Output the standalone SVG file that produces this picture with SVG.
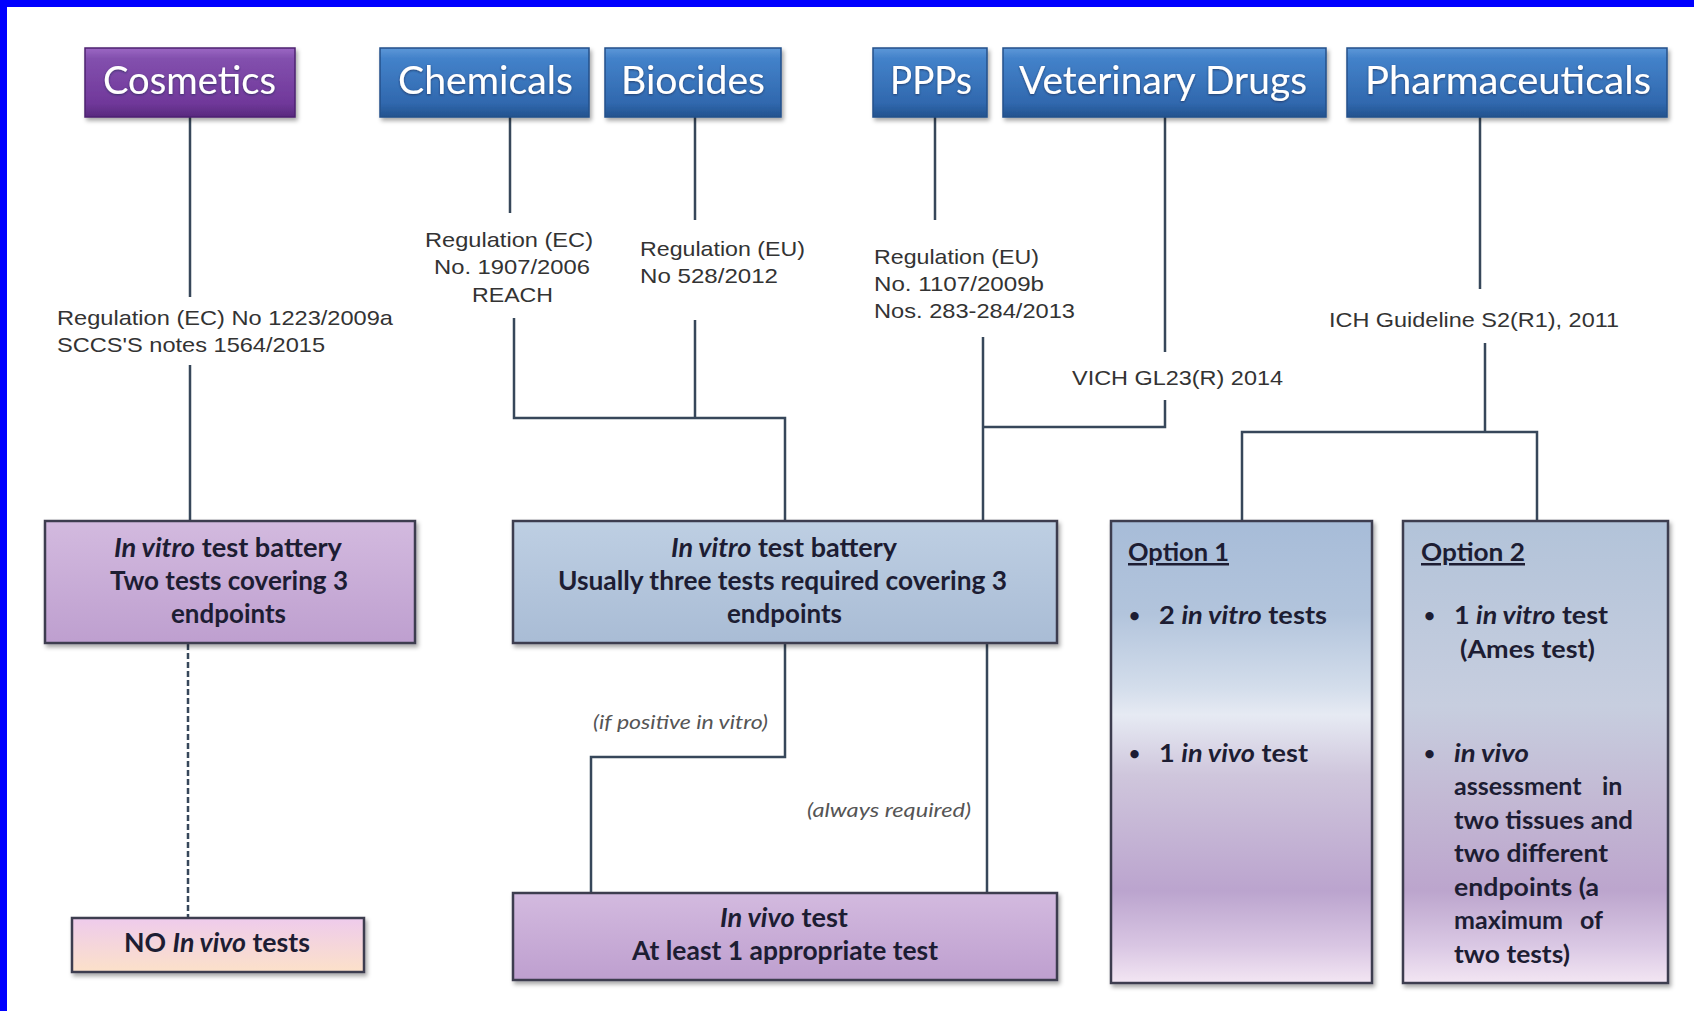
<svg xmlns="http://www.w3.org/2000/svg" width="1694" height="1011" viewBox="0 0 1694 1011">
<defs>
<style>
.hdr{font-family:Lato,"Open Sans",sans-serif;font-size:38px;fill:#ffffff;}
.reg{font-family:"Liberation Sans",Arial,sans-serif;font-size:21px;fill:#333333;}
.bt{font-family:Lato,"Open Sans",sans-serif;font-size:26px;font-weight:bold;fill:#1d1d33;}
.ot{font-family:Lato,"Open Sans",sans-serif;font-size:25px;font-weight:bold;fill:#1d1d33;}
.bul{font-family:Lato,"Open Sans",sans-serif;font-size:19px;font-weight:bold;fill:#1d1d33;}
.lbl{font-family:Lato,"Open Sans",sans-serif;font-size:19px;font-style:italic;fill:#555555;}
.conn{stroke:#37475A;stroke-width:2.5;fill:none;}
.dash{stroke:#37475A;stroke-width:2.5;fill:none;stroke-dasharray:6 3;}
.hb{stroke:#24508A;stroke-width:1.5;}
.hp{stroke:#4E2370;stroke-width:1.5;}
.bx{stroke:#3E3C50;stroke-width:2.5;}
.it{font-style:italic;}
</style>
<linearGradient id="gBlue" x1="0" y1="0" x2="0" y2="1">
<stop offset="0" stop-color="#5D98D8"/>
<stop offset="0.15" stop-color="#4382CA"/>
<stop offset="0.8" stop-color="#3068AE"/>
<stop offset="1" stop-color="#23528E"/>
</linearGradient>
<linearGradient id="gPurp" x1="0" y1="0" x2="0" y2="1">
<stop offset="0" stop-color="#9C68C4"/>
<stop offset="0.15" stop-color="#8350AE"/>
<stop offset="0.8" stop-color="#70389A"/>
<stop offset="1" stop-color="#582A7E"/>
</linearGradient>
<linearGradient id="gLav" x1="0" y1="0" x2="0" y2="1">
<stop offset="0" stop-color="#D3BADF"/>
<stop offset="1" stop-color="#BE9FCF"/>
</linearGradient>
<linearGradient id="gSteel" x1="0" y1="0" x2="0" y2="1">
<stop offset="0" stop-color="#BECFE3"/>
<stop offset="1" stop-color="#A9BCD5"/>
</linearGradient>
<linearGradient id="gNo" x1="0" y1="0" x2="0" y2="1">
<stop offset="0" stop-color="#EECBEC"/>
<stop offset="1" stop-color="#FCE1C9"/>
</linearGradient>
<linearGradient id="gOpt1" x1="0" y1="0" x2="0" y2="1">
<stop offset="0" stop-color="#A7BCD8"/>
<stop offset="0.2" stop-color="#B2C4DC"/>
<stop offset="0.36" stop-color="#D3DDEB"/>
<stop offset="0.42" stop-color="#E6EAF3"/>
<stop offset="0.55" stop-color="#CFC6DC"/>
<stop offset="0.8" stop-color="#BBA4CE"/>
<stop offset="0.92" stop-color="#D9C6E3"/>
<stop offset="1" stop-color="#F3E6F3"/>
</linearGradient>
<linearGradient id="gOpt2" x1="0" y1="0" x2="0" y2="1">
<stop offset="0" stop-color="#B2C3D9"/>
<stop offset="0.4" stop-color="#C7CEDF"/>
<stop offset="0.6" stop-color="#C3B9D4"/>
<stop offset="0.8" stop-color="#BCA5CD"/>
<stop offset="0.92" stop-color="#DAC8E4"/>
<stop offset="1" stop-color="#F3E6F3"/>
</linearGradient>
<filter id="sh" x="-10%" y="-10%" width="120%" height="130%">
<feDropShadow dx="2" dy="3" stdDeviation="2" flood-color="#000000" flood-opacity="0.35"/>
</filter>
<filter id="glow" x="-10%" y="-20%" width="120%" height="140%">
<feDropShadow dx="0" dy="1" stdDeviation="1" flood-color="#1a2a50" flood-opacity="0.7"/>
</filter>
</defs>

<rect x="0" y="0" width="1694" height="1011" fill="#ffffff"/>
<rect x="0" y="0" width="1694" height="7" fill="#0000FF"/>
<rect x="0" y="0" width="7" height="1011" fill="#0000FF"/>

<g id="connectors">
<path class="conn" d="M190 117V297M190 365V521"/>
<path class="dash" d="M188 644V918"/>
<path class="conn" d="M510 117V213M514 318V418H785V521M695 117V220M695 320V418"/>
<path class="conn" d="M935 117V220M983 337V521M1165 117V352M1165 400V427H983"/>
<path class="conn" d="M1480 117V289M1485 343V432M1242 521V432H1537V521"/>
<path class="conn" d="M785 643V757H591V893M987 643V893"/>
</g>

<g id="labels">
<text class="reg" x="57" y="325" textLength="336" lengthAdjust="spacingAndGlyphs">Regulation (EC) No 1223/2009a</text>
<text class="reg" x="57" y="352" textLength="268" lengthAdjust="spacingAndGlyphs">SCCS'S notes 1564/2015</text>
<text class="reg" x="425" y="247" textLength="168" lengthAdjust="spacingAndGlyphs">Regulation (EC)</text>
<text class="reg" x="434" y="274" textLength="156" lengthAdjust="spacingAndGlyphs">No. 1907/2006</text>
<text class="reg" x="472" y="302" textLength="81" lengthAdjust="spacingAndGlyphs">REACH</text>
<text class="reg" x="640" y="256" textLength="165" lengthAdjust="spacingAndGlyphs">Regulation (EU)</text>
<text class="reg" x="640" y="283" textLength="138" lengthAdjust="spacingAndGlyphs">No 528/2012</text>
<text class="reg" x="874" y="264" textLength="165" lengthAdjust="spacingAndGlyphs">Regulation (EU)</text>
<text class="reg" x="874" y="291" textLength="170" lengthAdjust="spacingAndGlyphs">No. 1107/2009b</text>
<text class="reg" x="874" y="318" textLength="201" lengthAdjust="spacingAndGlyphs">Nos. 283-284/2013</text>
<text class="reg" x="1072" y="385" textLength="211" lengthAdjust="spacingAndGlyphs">VICH GL23(R) 2014</text>
<text class="reg" x="1329" y="327" textLength="290" lengthAdjust="spacingAndGlyphs">ICH Guideline S2(R1), 2011</text>
<text class="lbl" x="593" y="729" textLength="175" lengthAdjust="spacingAndGlyphs">(if positive in vitro)</text>
<text class="lbl" x="807" y="817" textLength="164" lengthAdjust="spacingAndGlyphs">(always required)</text>
</g>

<g id="cosmetics">
<rect class="hp" x="85" y="48" width="210" height="69" fill="url(#gPurp)" filter="url(#sh)"/>
<text class="hdr" x="103" y="94" textLength="173" lengthAdjust="spacingAndGlyphs" filter="url(#glow)">Cosmetics</text>
</g>
<g id="chemicals">
<rect class="hb" x="380" y="48" width="209" height="69" fill="url(#gBlue)" filter="url(#sh)"/>
<text class="hdr" x="398" y="94" textLength="175" lengthAdjust="spacingAndGlyphs" filter="url(#glow)">Chemicals</text>
</g>
<g id="biocides">
<rect class="hb" x="605" y="48" width="176" height="69" fill="url(#gBlue)" filter="url(#sh)"/>
<text class="hdr" x="621" y="94" textLength="144" lengthAdjust="spacingAndGlyphs" filter="url(#glow)">Biocides</text>
</g>
<g id="ppps">
<rect class="hb" x="873" y="48" width="114" height="69" fill="url(#gBlue)" filter="url(#sh)"/>
<text class="hdr" x="890" y="94" textLength="82" lengthAdjust="spacingAndGlyphs" filter="url(#glow)">PPPs</text>
</g>
<g id="vetdrugs">
<rect class="hb" x="1003" y="48" width="323" height="69" fill="url(#gBlue)" filter="url(#sh)"/>
<text class="hdr" x="1019" y="94" textLength="288" lengthAdjust="spacingAndGlyphs" filter="url(#glow)">Veterinary Drugs</text>
</g>
<g id="pharma">
<rect class="hb" x="1347" y="48" width="320" height="69" fill="url(#gBlue)" filter="url(#sh)"/>
<text class="hdr" x="1365" y="94" textLength="286" lengthAdjust="spacingAndGlyphs" filter="url(#glow)">Pharmaceuticals</text>
</g>

<g id="cosm-invitro">
<rect class="bx" x="45" y="521" width="370" height="122" fill="url(#gLav)" filter="url(#sh)"/>
<text class="bt" x="114" y="557" textLength="228" lengthAdjust="spacingAndGlyphs"><tspan class="it">In vitro</tspan> test battery</text>
<text class="bt" x="110" y="590" textLength="238" lengthAdjust="spacingAndGlyphs">Two tests covering 3</text>
<text class="bt" x="171" y="623" textLength="115" lengthAdjust="spacingAndGlyphs">endpoints</text>
</g>

<g id="main-invitro">
<rect class="bx" x="513" y="521" width="544" height="122" fill="url(#gSteel)" filter="url(#sh)"/>
<text class="bt" x="671" y="557" textLength="226" lengthAdjust="spacingAndGlyphs"><tspan class="it">In vitro</tspan> test battery</text>
<text class="bt" x="558" y="590" textLength="449" lengthAdjust="spacingAndGlyphs">Usually three tests required covering 3</text>
<text class="bt" x="727" y="623" textLength="115" lengthAdjust="spacingAndGlyphs">endpoints</text>
</g>

<g id="option1">
<rect class="bx" x="1111" y="521" width="261" height="462" fill="url(#gOpt1)" filter="url(#sh)"/>
<text class="ot" x="1128" y="561" textLength="101" lengthAdjust="spacingAndGlyphs" text-decoration="underline">Option 1</text>
<text class="bul" x="1129" y="622">•</text>
<text class="ot" x="1159" y="624" textLength="168" lengthAdjust="spacingAndGlyphs">2 <tspan class="it">in vitro</tspan> tests</text>
<text class="bul" x="1129" y="760">•</text>
<text class="ot" x="1159" y="762" textLength="149" lengthAdjust="spacingAndGlyphs">1 <tspan class="it">in vivo</tspan> test</text>
</g>

<g id="option2">
<rect class="bx" x="1403" y="521" width="265" height="462" fill="url(#gOpt2)" filter="url(#sh)"/>
<text class="ot" x="1421" y="561" textLength="104" lengthAdjust="spacingAndGlyphs" text-decoration="underline">Option 2</text>
<text class="bul" x="1424" y="622">•</text>
<text class="ot" x="1454" y="624" textLength="154" lengthAdjust="spacingAndGlyphs">1 <tspan class="it">in vitro</tspan> test</text>
<text class="ot" x="1460" y="658" textLength="135" lengthAdjust="spacingAndGlyphs">(Ames test)</text>
<text class="bul" x="1424" y="760">•</text>
<text class="ot it" x="1454" y="762" textLength="75" lengthAdjust="spacingAndGlyphs">in vivo</text>
<text class="ot" x="1454" y="795">assessment <tspan x="1602">in</tspan></text>
<text class="ot" x="1454" y="829" textLength="179" lengthAdjust="spacingAndGlyphs">two tissues and</text>
<text class="ot" x="1454" y="862" textLength="154" lengthAdjust="spacingAndGlyphs">two different</text>
<text class="ot" x="1454" y="896" textLength="145" lengthAdjust="spacingAndGlyphs">endpoints (a</text>
<text class="ot" x="1454" y="929">maximum <tspan x="1580">of</tspan></text>
<text class="ot" x="1454" y="963" textLength="116" lengthAdjust="spacingAndGlyphs">two tests)</text>
</g>

<g id="no-invivo">
<rect class="bx" x="72" y="918" width="292" height="54" fill="url(#gNo)" filter="url(#sh)"/>
<text class="bt" x="124" y="952" textLength="186" lengthAdjust="spacingAndGlyphs">NO <tspan class="it">In vivo</tspan> tests</text>
</g>

<g id="invivo">
<rect class="bx" x="513" y="893" width="544" height="87" fill="url(#gLav)" filter="url(#sh)"/>
<text class="bt" x="720" y="927" textLength="128" lengthAdjust="spacingAndGlyphs"><tspan class="it">In vivo</tspan> test</text>
<text class="bt" x="632" y="960" textLength="306" lengthAdjust="spacingAndGlyphs">At least 1 appropriate test</text>
</g>
</svg>
